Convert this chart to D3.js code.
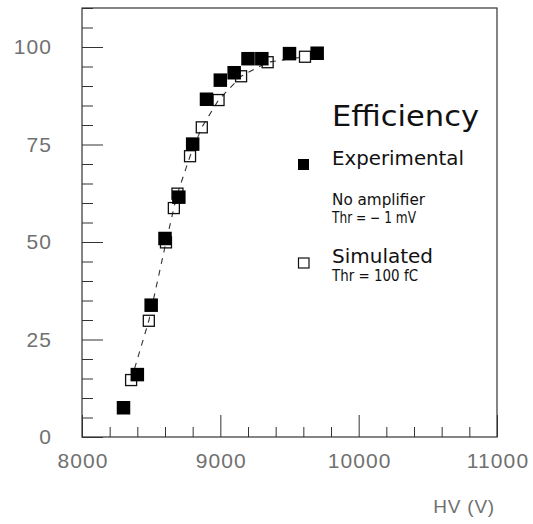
<!DOCTYPE html>
<html>
<head>
<meta charset="utf-8">
<script src="https://cdn.jsdelivr.net/npm/d3@7/dist/d3.min.js"></script>
<style>
  html, body { margin: 0; padding: 0; background: #fff; }
  svg { display: block; }
</style>
</head>
<body>
<svg id="chart" width="533" height="524"></svg>
<script>
// Measured efficiency vs. high voltage
const expHV  = [8300, 8400, 8500, 8600, 8700, 8800, 8900, 9000, 9100, 9200, 9300, 9500, 9700];
const expEff = [7.5, 16.0, 33.8, 50.9, 61.5, 75.1, 86.6, 91.5, 93.4, 97.0, 97.0, 98.3, 98.4];

// Simulated efficiency (threshold 100 fC)
const simHV  = [8355, 8483, 8607, 8664, 8690, 8781, 8866, 8987, 9150, 9342, 9612];
const simEff = [14.6, 29.8, 49.9, 58.7, 62.4, 72.0, 79.4, 86.4, 92.5, 96.1, 97.5];

// Axis ticks
const xMajor = [8000, 9000, 10000, 11000];
const xMinor = d3.range(8000, 11001, 200);
const yMajor = [0, 25, 50, 75, 100];
const yMinor = d3.range(0, 111, 5);

// Legend entries
const legendTitle = "Efficiency";
const expLabel = "Experimental";
const expNotes = ["No amplifier", "Thr = \u2212 1 mV"];
const simLabel = "Simulated";
const simNotes = ["Thr = 100 fC"];

const svg = d3.select("#chart");
const frame = { left: 82, right: 497, top: 8, bottom: 437 };

const x = d3.scaleLinear().domain([8000, 11000]).range([frame.left, frame.right]);
const y = d3.scaleLinear().domain([0, 110]).range([frame.bottom, frame.top]);

const axisFont = "'Liberation Sans', Arial, sans-serif";
const axisColor = "#333";
const labelColor = "#707070";

// Minor ticks (inward)
svg.append("g")
  .attr("transform", `translate(${frame.left},0)`)
  .call(d3.axisLeft(y).tickValues(yMinor.filter(v => !yMajor.includes(v))).tickSize(-11).tickFormat(""))
  .call(g => g.select(".domain").remove());
svg.append("g")
  .attr("transform", `translate(0,${frame.bottom})`)
  .call(d3.axisBottom(x).tickValues(xMinor.filter(v => !xMajor.includes(v))).tickSize(-10).tickFormat(""))
  .call(g => g.select(".domain").remove());

// Major ticks with labels
const yAxis = svg.append("g")
  .attr("transform", `translate(${frame.left},0)`)
  .call(d3.axisLeft(y).tickValues(yMajor).tickSize(-21).tickPadding(30).tickFormat(d3.format("d")))
  .call(g => g.select(".domain").remove());
const xAxis = svg.append("g")
  .attr("transform", `translate(0,${frame.bottom})`)
  .call(d3.axisBottom(x).tickValues(xMajor).tickSize(-22).tickPadding(16).tickFormat(d3.format("d")))
  .call(g => g.select(".domain").remove());

svg.selectAll(".tick line").attr("stroke", axisColor).attr("stroke-width", 1);
[yAxis, xAxis].forEach(g => g.selectAll("text")
  .attr("font-family", axisFont)
  .attr("font-size", 21)
  .attr("letter-spacing", 1.1)
  .attr("fill", labelColor));
xAxis.selectAll("text").attr("dx", "0.5px");

// Plot frame
svg.append("rect")
  .attr("x", frame.left).attr("y", frame.top)
  .attr("width", frame.right - frame.left).attr("height", frame.bottom - frame.top)
  .attr("fill", "none").attr("stroke", axisColor).attr("stroke-width", 1.2);

// Axis title
svg.append("text")
  .attr("x", 495).attr("y", 513)
  .attr("text-anchor", "end")
  .attr("font-family", axisFont).attr("font-size", 19)
  .attr("letter-spacing", 0.8)
  .attr("fill", labelColor)
  .text("HV (V)");

// Simulated curve: dashed line through the simulated points
const sim = simHV.map((v, i) => ({ hv: v, eff: simEff[i] }));
const exp = expHV.map((v, i) => ({ hv: v, eff: expEff[i] }));

svg.append("path")
  .datum(sim)
  .attr("d", d3.line().x(d => x(d.hv)).y(d => y(d.eff)))
  .attr("fill", "none")
  .attr("stroke", "#333")
  .attr("stroke-width", 1.1)
  .attr("stroke-dasharray", "6 6");

const openSize = 11;
svg.append("g").selectAll("rect")
  .data(sim).join("rect")
  .attr("x", d => x(d.hv) - openSize / 2)
  .attr("y", d => y(d.eff) - openSize / 2)
  .attr("width", openSize).attr("height", openSize)
  .attr("fill", "none").attr("stroke", "#111").attr("stroke-width", 1.3);

const fillSize = 13.5;
svg.append("g").selectAll("rect")
  .data(exp).join("rect")
  .attr("x", d => x(d.hv) - fillSize / 2)
  .attr("y", d => y(d.eff) - fillSize / 2)
  .attr("width", fillSize).attr("height", fillSize)
  .attr("fill", "#000");

// Legend
const legendFont = "'DejaVu Sans', Verdana, sans-serif";
const lg = svg.append("g").attr("font-family", legendFont).attr("fill", "#111");

lg.append("text").attr("x", 332).attr("y", 126)
  .attr("font-size", 29).attr("textLength", 147).attr("lengthAdjust", "spacingAndGlyphs")
  .text(legendTitle);

lg.append("rect").attr("x", 298).attr("y", 159).attr("width", 11).attr("height", 11).attr("fill", "#000");
lg.append("text").attr("x", 332).attr("y", 165)
  .attr("font-size", 19).attr("textLength", 132).attr("lengthAdjust", "spacingAndGlyphs")
  .text(expLabel);
lg.append("text").attr("x", 332).attr("y", 205)
  .attr("font-size", 15).attr("textLength", 93).attr("lengthAdjust", "spacingAndGlyphs")
  .text(expNotes[0]);
lg.append("text").attr("x", 332).attr("y", 223)
  .attr("font-size", 15).attr("textLength", 84).attr("lengthAdjust", "spacingAndGlyphs")
  .text(expNotes[1]);

lg.append("rect").attr("x", 298.5).attr("y", 258).attr("width", 10.5).attr("height", 10)
  .attr("fill", "none").attr("stroke", "#111").attr("stroke-width", 1.2);
lg.append("text").attr("x", 332).attr("y", 263)
  .attr("font-size", 19).attr("textLength", 101).attr("lengthAdjust", "spacingAndGlyphs")
  .text(simLabel);
lg.append("text").attr("x", 332).attr("y", 281)
  .attr("font-size", 15).attr("textLength", 86).attr("lengthAdjust", "spacingAndGlyphs")
  .text(simNotes[0]);
</script>
</body>
</html>
